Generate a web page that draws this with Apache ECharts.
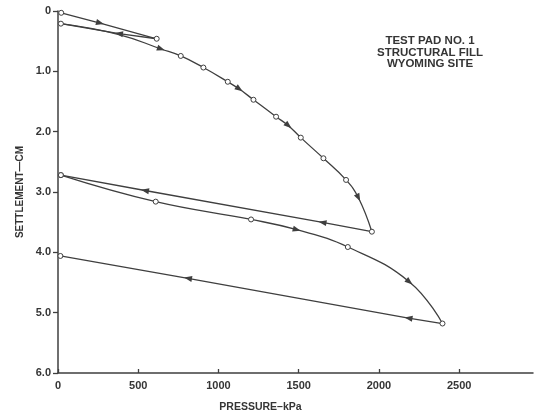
<!DOCTYPE html>
<html><head><meta charset="utf-8">
<script src="https://cdn.jsdelivr.net/npm/echarts@6/dist/echarts.min.js"></script>
<style>html,body{margin:0;padding:0;background:#fff}#c{width:538px;height:418px}</style>
</head><body><div id="c"></div>
<script>
// ---- data (pressure kPa, settlement cm) ----
const xTicks = [0, 500, 1000, 1500, 2000, 2500];
const yTicks = [0, 1, 2, 3, 4, 5, 6];
const titleLines = ['TEST PAD NO. 1', 'STRUCTURAL FILL', 'WYOMING SITE'];

const firstLoad = [[20, 0.03], [262, 0.20], [615, 0.46]];
const firstLoadMarks = ['o', '>', 'o'];
const firstUnload = [[615, 0.46], [380, 0.375], [18, 0.21]];
const firstUnloadMarks = ['', '>', ''];
const secondLoad = [[18, 0.21], [380, 0.39], [642, 0.63], [765, 0.745], [906, 0.937], [1058, 1.173], [1130, 1.294], [1218, 1.471], [1359, 1.752], [1436, 1.90], [1513, 2.099], [1654, 2.441], [1795, 2.80], [1872, 3.096], [1956, 3.658]];
const secondLoadMarks = ['o', '', '>', 'o', 'o', 'o', '>', 'o', 'o', '>', 'o', 'o', 'o', '>', 'o'];
const secondUnload = [[1956, 3.658], [1648, 3.504], [542, 2.975], [18, 2.72]];
const secondUnloadMarks = ['', '>', '>', 'o'];
const thirdLoad = [[18, 2.72], [609, 3.16], [1203, 3.455], [1488, 3.625], [1806, 3.912], [2190, 4.49], [2396, 5.18]];
const thirdLoadMarks = ['o', 'o', 'o', '>', 'o', '>', 'o'];
const thirdUnload = [[2396, 5.18], [2184, 5.09], [810, 4.43], [15, 4.06]];
const thirdUnloadMarks = ['', '>', '>', 'o'];

const segments = [
  { pts: firstLoad, marks: firstLoadMarks, smooth: false },
  { pts: firstUnload, marks: firstUnloadMarks, smooth: false },
  { pts: secondLoad, marks: secondLoadMarks, smooth: 0.45 },
  { pts: secondUnload, marks: secondUnloadMarks, smooth: false },
  { pts: thirdLoad, marks: thirdLoadMarks, smooth: 0.45 },
  { pts: thirdUnload, marks: thirdUnloadMarks, smooth: false }
];

const INK = '#3f3f3f';
const TXT = '#353535';

const chart = echarts.init(document.getElementById('c'));

function makeSeries(rotations) {
  return segments.map((seg, si) => ({
    type: 'line',
    smooth: seg.smooth,
    lineStyle: { color: INK, width: 1.3 },
    z: 3,
    data: seg.pts.map((p, i) => {
      const m = seg.marks[i];
      if (m === 'o') {
        return { value: p, symbol: 'circle', symbolSize: 5,
          itemStyle: { color: '#fff', borderColor: INK, borderWidth: 1 } };
      }
      if (m === '>') {
        return { value: p, symbol: 'triangle', symbolSize: [6, 8],
          symbolRotate: rotations ? rotations[si][i] : 0,
          itemStyle: { color: INK, borderWidth: 0 } };
      }
      return { value: p, symbol: 'none' };
    })
  }));
}

const option = {
  animation: false,
  backgroundColor: '#fff',
  grid: { left: 58, right: 5, top: 11, bottom: 44 },
  xAxis: {
    type: 'value', min: 0, max: 2960, interval: 500, position: 'bottom',
    name: 'PRESSURE–kPa', nameLocation: 'middle', nameGap: 29,
    nameTextStyle: { color: TXT, fontFamily: 'Liberation Sans', fontWeight: 'bold', fontSize: 10.5, padding: [0, 70, 0, 0] },
    axisLine: { onZero: false, lineStyle: { color: INK, width: 1.5 } },
    axisTick: { inside: true, length: 4, lineStyle: { color: INK, width: 1.3 }, customValues: xTicks },
    axisLabel: { customValues: xTicks, color: TXT, fontFamily: 'Liberation Sans', fontWeight: 'bold', fontSize: 11, margin: 7,
      formatter: v => String(v) },
    splitLine: { show: false }
  },
  yAxis: {
    type: 'value', inverse: true, min: 0, max: 6, interval: 1,
    name: 'SETTLEMENT—CM', nameLocation: 'middle', nameGap: 33, nameRotate: 90,
    nameTextStyle: { color: TXT, fontFamily: 'Liberation Sans', fontWeight: 'bold', fontSize: 10 },
    axisLine: { onZero: false, lineStyle: { color: INK, width: 1.5 } },
    axisTick: { inside: false, length: 5, lineStyle: { color: INK, width: 1.3 }, customValues: yTicks },
    axisLabel: { customValues: yTicks, color: TXT, fontFamily: 'Liberation Sans', fontWeight: 'bold', fontSize: 11, margin: 7,
      formatter: v => (v === 0 ? '0' : v.toFixed(1)) },
    splitLine: { show: false }
  },
  graphic: [{
    type: 'text', left: 437 - 60, top: 35,
    style: { text: titleLines.join('\n'), x: 60, textAlign: 'center', fill: TXT,
      font: 'bold 11.5px "Liberation Sans"', lineHeight: 11.6 }
  }],
  series: makeSeries(null)
};
chart.setOption(option);

// compute arrow orientation from neighbouring points in pixel space
const rotations = segments.map(seg => seg.pts.map((p, i) => {
  if (seg.marks[i] !== '>') return 0;
  const a = chart.convertToPixel({ gridIndex: 0 }, seg.pts[Math.max(0, i - 1)]);
  const b = chart.convertToPixel({ gridIndex: 0 }, seg.pts[Math.min(seg.pts.length - 1, i + 1)]);
  const ang = Math.atan2(-(b[1] - a[1]), b[0] - a[0]) * 180 / Math.PI;
  return ang - 90;
}));
chart.setOption({ series: makeSeries(rotations) });
</script>
</body></html>
